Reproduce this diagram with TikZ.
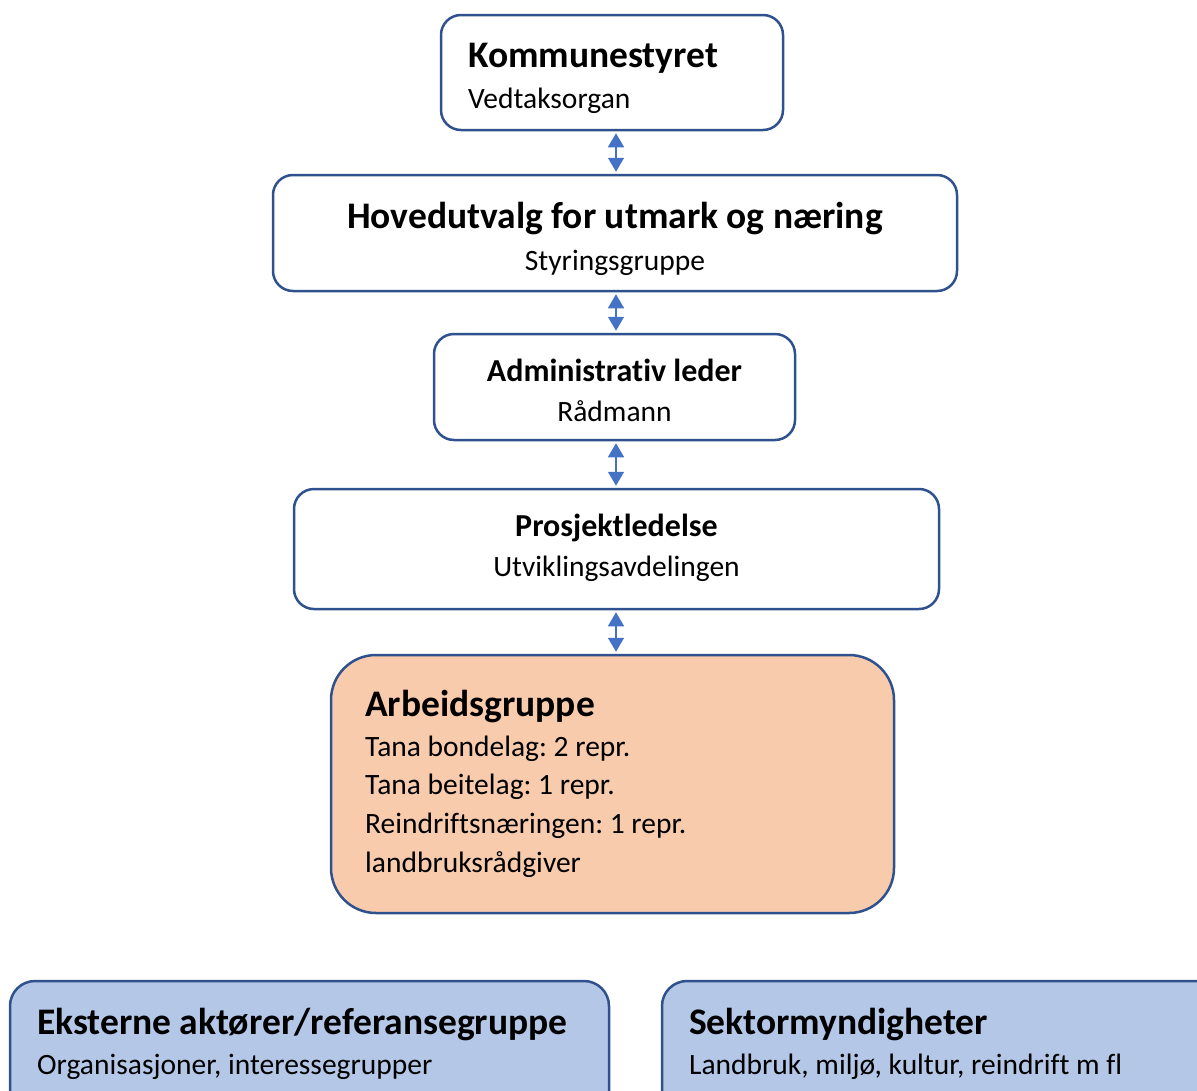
\documentclass[tikz,border=0pt]{standalone}
\usepackage{fontspec}
\setmainfont{Carlito}[Ligatures=NoCommon]
\frenchspacing
\usetikzlibrary{arrows.meta}
\definecolor{rim}{HTML}{2F528F}
\definecolor{pil}{HTML}{4472C4}
\definecolor{laks}{HTML}{F8CBAD}
\definecolor{lysbla}{HTML}{B4C7E7}
\tikzset{
  box/.style={draw=rim, line width=2.5pt, rounded corners=20pt, fill=white, inner sep=0pt},
  tittel/.style={font=\fontsize{37.5}{42}\selectfont\bfseries, inner sep=0pt},
  tittelsm/.style={font=\fontsize{32}{37}\selectfont\bfseries, inner sep=0pt},
  under/.style={font=\fontsize{29.5}{34}\selectfont, inner sep=0pt},
  link/.style={pil, line width=1.5pt, shorten <=2pt, shorten >=2pt,
    {Triangle[width=16pt,length=14pt]}-{Triangle[width=16pt,length=14pt]}}
}
\begin{document}
\begin{tikzpicture}[x=1pt, y=-1pt]
            \useasboundingbox (0,0) rectangle (1197,1090);
            \clip (0,0) rectangle (1197,1090);
            % boksene
            \node [box, minimum width=342pt, minimum height=115pt] (kom) at (612,72.5) {};
            \node [box, minimum width=684pt, minimum height=116pt] (hov) at (615,233) {};
            \node [box, minimum width=361pt, minimum height=106pt] (adm) at (614.5,387) {};
            \node [box, minimum width=645pt, minimum height=120pt] (pro) at (616.5,549) {};
            \node [box, fill=laks, rounded corners=45pt, minimum width=563pt, minimum height=258pt] (arb) at (612.5,784) {};
            \node [box, fill=lysbla, rounded corners=25pt, minimum width=599pt, minimum height=150pt] (eks) at (309.5,1056) {};
            \node [box, fill=lysbla, rounded corners=25pt, minimum width=580pt, minimum height=150pt] (sek) at (952,1056) {};
            % tekst
            \node [tittel, anchor=base west] (komT) at (468,67.5) {Kommunestyret};
            \node [under, anchor=base west] (komU) at (468,108.5) {Vedtaksorgan};
            \node [tittel, anchor=base] (hovT) at (615,228.5) {Hovedutvalg for utmark og næring};
            \node [under, anchor=base] (hovU) at (615,270.5) {Styringsgruppe};
            \node [tittelsm, anchor=base] (admT) at (614.5,381.5) {Administrativ leder};
            \node [under, anchor=base] (admU) at (614.5,421.5) {Rådmann};
            \node [tittelsm, anchor=base] (proT) at (616.5,536.5) {Prosjektledelse};
            \node [under, anchor=base] (proU) at (616.5,576.5) {Utviklingsavdelingen};
            \node [tittel, anchor=base west] (arbT) at (365,716.5) {Arbeidsgruppe};
            \node [under, anchor=base west] (arb1) at (365,756.5) {Tana bondelag: 2 repr.};
            \node [under, anchor=base west] (arb2) at (365,794.5) {Tana beitelag: 1 repr.};
            \node [under, anchor=base west] (arb3) at (365,833.5) {Reindriftsnæringen: 1 repr.};
            \node [under, anchor=base west] (arb4) at (365,872.5) {landbruksrådgiver};
            \node [tittel, anchor=base west] (eksT) at (37,1034.5) {Eksterne aktører/referansegruppe};
            \node [under, anchor=base west] (eksU) at (37,1074.5) {Organisasjoner, interessegrupper};
            \node [tittel, anchor=base west] (sekT) at (689,1034.5) {Sektormyndigheter};
            \node [under, anchor=base west] (sekU) at (689,1074.5) {Landbruk, miljø, kultur, reindrift m fl};
            % piler
            \coordinate (akse) at (616,0);
            \draw [link] (akse |- kom.south) -- (akse |- hov.north);
            \draw [link] (akse |- hov.south) -- (akse |- adm.north);
            \draw [link] (akse |- adm.south) -- (akse |- pro.north);
            \draw [link] (akse |- pro.south) -- (akse |- arb.north);
        \end{tikzpicture}
\end{document}
